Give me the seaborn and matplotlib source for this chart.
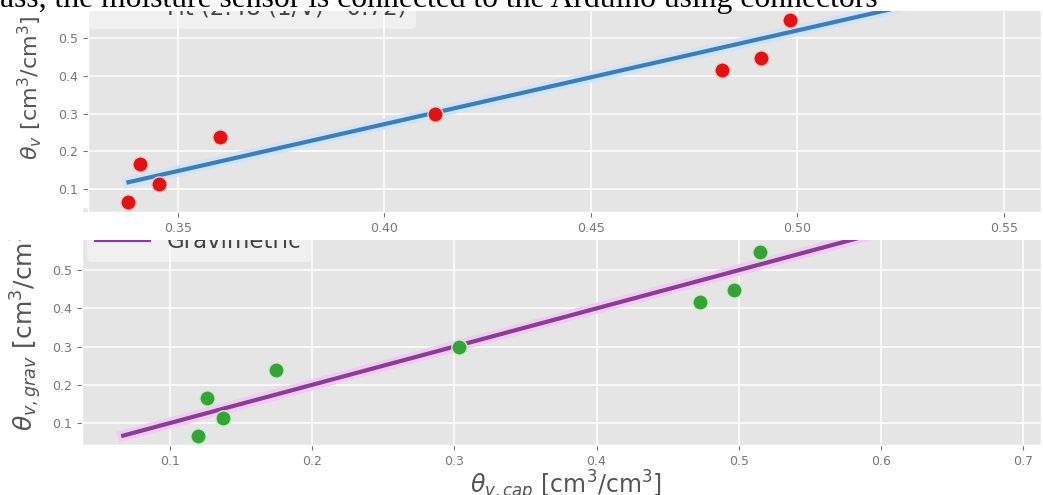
import matplotlib
matplotlib.use("Agg")
import matplotlib.pyplot as plt
from matplotlib.patches import Rectangle
import seaborn as sns

# data
inv_v = [0.338, 0.3407, 0.3454, 0.3602, 0.4122, 0.4817, 0.4912, 0.4983]
theta_grav = [0.066, 0.166, 0.113, 0.238, 0.300, 0.416, 0.448, 0.548]
theta_cap = [0.1197, 0.126, 0.137, 0.1746, 0.303, 0.473, 0.497, 0.515]

fit_x = [0.338, 0.56]
fit_y = [0.118, 0.669]
one_x = [0.067, 0.70]
one_y = [0.067, 0.70]

top_xticks = [0.35, 0.40, 0.45, 0.50, 0.55]
top_xlabels = ["0.35", "0.40", "0.45", "0.50", "0.55"]
bot_xticks = [0.1, 0.2, 0.3, 0.4, 0.5, 0.6, 0.7]
yticks = [0.1, 0.2, 0.3, 0.4, 0.5]

doc_line = "ass, the moisture sensor is connected to the Arduino using connectors"

plt.style.use("ggplot")
plt.rcParams["grid.linewidth"] = 1.1
plt.rcParams["xtick.color"] = "#777777"
plt.rcParams["ytick.color"] = "#777777"

W, H = 1043, 495
fig = plt.figure(figsize=(W / 100, H / 100), dpi=100)
fig.patch.set_facecolor("white")


def rect(left, top, right, bottom):
    return [left / W, 1 - bottom / H, (right - left) / W, (bottom - top) / H]


ax1 = fig.add_axes(rect(88, -42, 1041, 212), zorder=2)
ax2 = fig.add_axes(rect(82, 207, 1041, 445), zorder=0)

# top panel: 1/V against gravimetric
sns.lineplot(x=fit_x, y=fit_y, ax=ax1, color="#cfe4f5", linewidth=8, zorder=2)
sns.lineplot(x=fit_x, y=fit_y, ax=ax1, color="#3b7dbd", linewidth=3,
             zorder=3, label="Fit (2.48 (1/V) - 0.72)")
sns.scatterplot(x=inv_v, y=theta_grav, ax=ax1, color="#e01212", s=120,
                edgecolor="#f4caca", linewidth=1, zorder=4)
ax1.set_xlim(0.3282, 0.559)
ax1.set_ylim(0.0391, 0.712)
ax1.set_xticks(top_xticks)
ax1.set_xticklabels(top_xlabels)
ax1.set_yticks(yticks)
ax1.tick_params(labelsize=9)
ax1.set_ylabel(r"$\theta_v$ [cm$^3$/cm$^3$]", fontsize=16, color="#555555")
ax1.yaxis.set_label_coords(-0.046, 0.49)
leg1 = ax1.legend(loc="center left", bbox_to_anchor=(87 / W, 1 - 8 / H),
                  bbox_transform=fig.transFigure, borderaxespad=0,
                  fontsize=16.5, facecolor="white", framealpha=0.45,
                  edgecolor="none", handlelength=2.3)
for t in leg1.get_texts():
    t.set_color("#444444")

# bottom panel: capacitive against gravimetric
sns.lineplot(x=one_x, y=one_y, ax=ax2, color="#f0ccf0", linewidth=8, zorder=2)
sns.lineplot(x=one_x, y=one_y, ax=ax2, color="#8a3d96", linewidth=3,
             zorder=3, label="Gravimetric")
sns.scatterplot(x=theta_cap, y=theta_grav, ax=ax2, color="#36a336", s=120,
                edgecolor="#cdeccd", linewidth=1, zorder=4)
ax2.set_xlim(0.038, 0.7127)
ax2.set_ylim(0.0424, 0.6654)
ax2.set_xticks(bot_xticks)
ax2.set_yticks(yticks)
ax2.tick_params(labelsize=9)
ax2.set_ylabel(r"$\theta_{v,grav}$ [cm$^3$/cm$^3$]", fontsize=18, color="#555555")
ax2.yaxis.set_label_coords(-0.040, 0.5)
ax2.set_xlabel(r"$\theta_{v,cap}$ [cm$^3$/cm$^3$]", fontsize=17, color="#555555")
ax2.xaxis.set_label_coords(0.505, -0.097)
leg2 = ax2.legend(loc="center left", bbox_to_anchor=(87 / W, 1 - 241.5 / H),
                  bbox_transform=fig.transFigure, borderaxespad=0,
                  fontsize=16.5, facecolor="white", framealpha=0.45,
                  edgecolor="none", handlelength=2.3)
for t in leg2.get_texts():
    t.set_color("#444444")

# white strip where the upper picture sits over the lower one
fig.add_artist(Rectangle((0, 1 - 240 / H), 1, 28 / H, transform=fig.transFigure,
                         facecolor="white", edgecolor="none", zorder=1))
# page text cut off above the charts
fig.add_artist(Rectangle((0, 1 - 10.5 / H), 1, 10.5 / H, transform=fig.transFigure,
                         facecolor="white", edgecolor="none", zorder=3))
fig.text(0, 1 - 7.5 / H, doc_line, family="Liberation Serif", fontsize=22.8,
         color="black", ha="left", va="baseline", zorder=4)

fig.savefig("out.png", dpi=100, facecolor="white")
